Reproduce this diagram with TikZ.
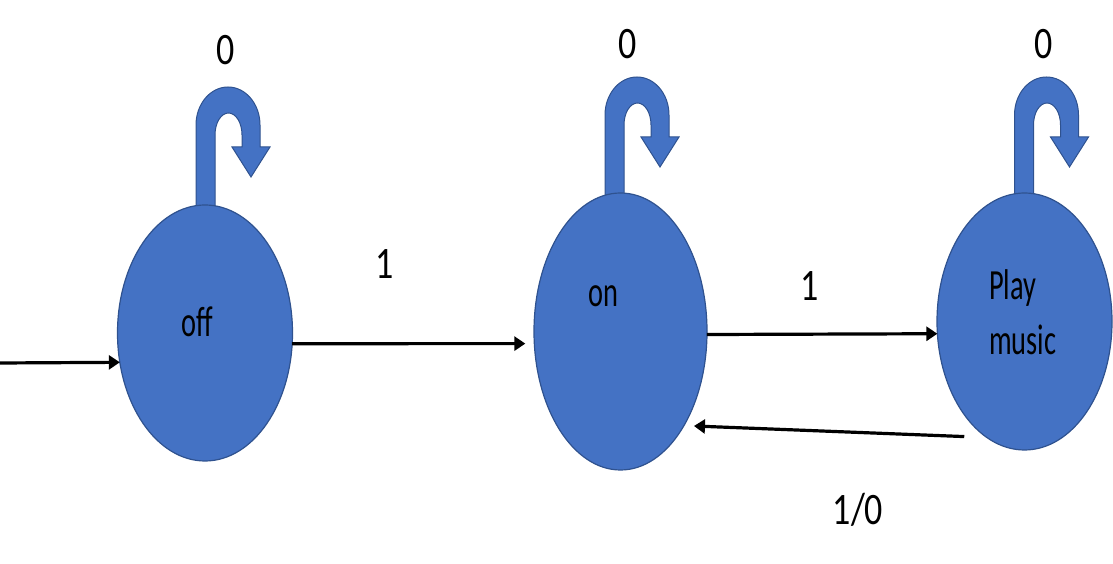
\documentclass[tikz,border=0pt]{standalone}
\usepackage{fontspec}
\setmainfont{Carlito}
\usetikzlibrary{shapes.geometric,arrows.meta}
\definecolor{stfill}{HTML}{4472C4}
\definecolor{stdraw}{HTML}{2F528F}
\tikzset{
  st/.style={ellipse, fill=stfill, draw=stdraw, line width=1.2pt, inner sep=0pt, outer sep=0pt},
  edge/.style={line width=3.2pt, -{Triangle[length=11pt,width=14pt]}},
  sttext/.style={inner sep=0pt, font=\fontsize{43}{51}\selectfont, xscale=0.66},
  lbl/.style={inner sep=0pt, font=\fontsize{45}{54}\selectfont, xscale=0.8},
  uturn/.pic={
    \fill[stfill, draw=stdraw, line width=1pt]
      (-32,-92) -- (-32,0) arc[start angle=180, end angle=0, x radius=32, y radius=38]
      -- (32,-22) -- (42,-22) -- (23,-52) -- (4,-22) -- (14,-22) -- (14,-10)
      arc[start angle=0, end angle=180, x radius=13.5, y radius=22]
      -- (-13,-92) -- cycle;
  }
}
\begin{document}
\begin{tikzpicture}[x=1pt, y=1pt]
\useasboundingbox (0,0) rectangle (1113,564);
% self-loop arrows (behind the states)
\pic (offloop) at (228,439) {uturn};
\pic (onloop) at (637,449) {uturn};
\pic (playloop) at (1046.5,449) {uturn};
% states
\node[st, minimum width=175pt, minimum height=256pt] (off) at (205,231) {};
\node[st, minimum width=173pt, minimum height=277pt] (on) at (620.5,232.5) {};
\node[st, minimum width=175pt, minimum height=257pt] (play) at (1024.5,242.5) {};
% state texts
\node[sttext, anchor=base] (offtxt) at (197.5,227) {off};
\node[sttext, anchor=base] (ontxt) at (603.5,257) {on};
\node[sttext, anchor=base west] (playtxt) at (989,264) {Play};
\node[sttext, anchor=base west] (musictxt) at (989,209) {music};
% connectors
\coordinate (init) at (0,201);
\draw[edge] (init) -- (off.199.43);
\draw[edge, shorten >=9pt] (off.-7.19) -- (on.188.26);
\draw[edge] (on.-2.32) -- (play.188.82);
\draw[edge, shorten <=22.6pt, shorten >=10pt] (play.252.41) -- (on.-56.73);
% labels
\node[lbl] (l0off) at (225.5,514) {0};
\node[lbl] (l0on) at (628,520) {0};
\node[lbl] (l0play) at (1044,520) {0};
\node[lbl] (l1a) at (384.5,300) {1};
\node[lbl] (l1b) at (810,278) {1};
\node[lbl] (l10) at (858,54) {1/0};
\end{tikzpicture}
\end{document}
